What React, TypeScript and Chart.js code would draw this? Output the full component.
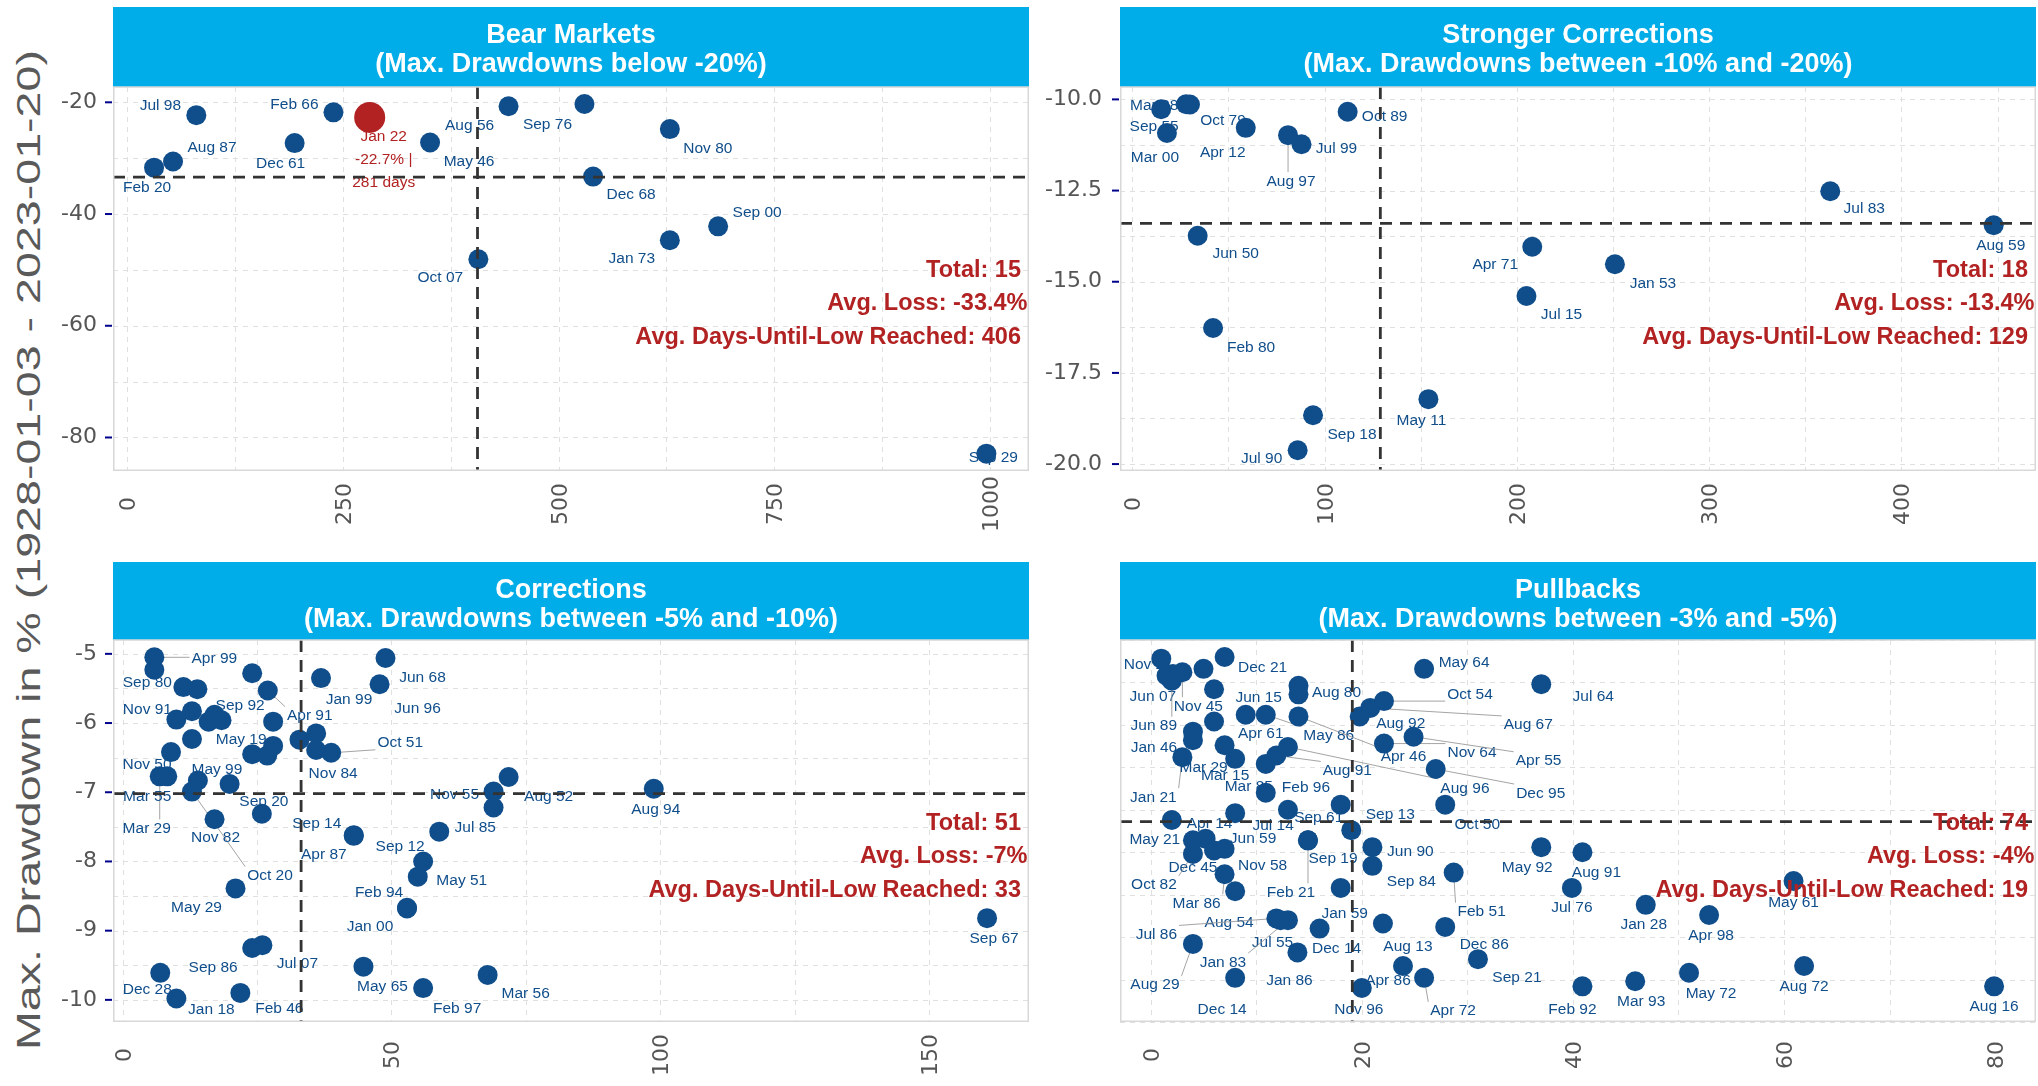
import React, { useEffect, useRef } from "react";
import { Chart, registerables } from "chart.js";
Chart.register(...registerables);

const FONT = '"Liberation Sans", Arial, Helvetica, sans-serif';
const TICK_FONT = '"DejaVu Sans", Verdana, sans-serif';
const POINT_BLUE = "#104E8B";
const HIGHLIGHT_RED = "#B22222";
const STRIP_BLUE = "#00ADE8";
const GRID_GREY = "#E0E0E0";
const TICK_GREY = "#555555";

const yAxisTitle = "Max. Drawdown in % (1928-01-03 - 2023-01-20)";

// ---------------- Panel 1: Bear Markets ----------------
const bearTitle = ["Bear Markets", "(Max. Drawdowns below -20%)"];
const bearNames = ["Jul 98", "Aug 87", "Feb 20", "Dec 61", "Feb 66", "Jan 22", "May 46", "Aug 56", "Sep 76", "Dec 68", "Oct 07", "Nov 80", "Sep 00", "Jan 73", "Sep 29"];
const bearDays = [80, 53, 31, 194, 239, 281, 351, 442, 530, 540, 407, 629, 685, 629, 996];
const bearLoss = [-22.3, -30.6, -31.7, -27.3, -21.8, -22.7, -27.2, -20.7, -20.3, -33.3, -48.1, -24.8, -42.2, -44.7, -82.9];
const bearSummary = ["Total: 15", "Avg. Loss: -33.4%", "Avg. Days-Until-Low Reached: 406"];
const bearAvgDays = 406;
const bearAvgLoss = -33.4;
const bearHighlightText = ["Jan 22", "-22.7% |", "281 days"];

// ---------------- Panel 2: Stronger Corrections ----------------
const strongTitle = ["Stronger Corrections", "(Max. Drawdowns between -10% and -20%)"];
const strongNames = ["Mar 28", "Sep 55", "Oct 79", "Mar 00", "Apr 12", "Oct 89", "Aug 97", "Jul 99", "Jun 50", "Feb 80", "Sep 18", "Jul 90", "May 11", "Apr 71", "Jul 15", "Jan 53", "Jul 83", "Aug 59"];
const strongDays = [28, 15, 30, 18, 59, 112, 81, 88, 34, 42, 94, 86, 154, 208, 205, 251, 363, 448];
const strongLoss = [-10.13, -10.27, -10.14, -10.92, -10.78, -10.34, -10.98, -11.23, -13.74, -16.27, -18.66, -19.62, -18.22, -14.04, -15.39, -14.52, -12.52, -13.45];
const strongSummary = ["Total: 18", "Avg. Loss: -13.4%", "Avg. Days-Until-Low Reached: 129"];
const strongAvgDays = 129;
const strongAvgLoss = -13.4;

// ---------------- Panel 3: Corrections ----------------
const corrTitle = ["Corrections", "(Max. Drawdowns between -5% and -10%)"];
const corrNames = ["Apr 99", "Sep 80", "", "", "Sep 92", "Apr 91", "Jan 99", "Jun 68", "Jun 96", "", "Nov 91", "", "", "", "May 19", "", "Nov 50", "", "", "", "", "", "Nov 84", "Oct 51", "Mar 29", "Mar 55", "May 99", "Oct 20", "", "Nov 82", "Sep 20", "Apr 87", "Sep 14", "Jul 85", "Sep 12", "May 51", "Feb 94", "Jan 00", "May 29", "Sep 86", "Jul 07", "Dec 28", "Jan 18", "Feb 46", "May 65", "Feb 97", "Mar 56", "Aug 52", "Nov 55", "", "Aug 94", "Sep 67"];
const corrDays = [5.9, 5.9, 11.3, 13.9, 24.1, 27.0, 36.9, 48.9, 47.8, 12.9, 10.0, 16.0, 17.1, 18.4, 28.0, 12.9, 9.0, 24.1, 26.9, 28.0, 32.9, 36.0, 36.0, 38.8, 6.9, 8.3, 14.0, 12.9, 19.9, 17.1, 25.9, 43.0, 43.0, 58.9, 55.9, 54.9, 52.9, 52.9, 21.0, 24.1, 26.0, 7.0, 10.0, 21.9, 44.8, 55.9, 67.9, 71.8, 69.0, 69.0, 98.8, 160.8];
const corrLoss = [-5.05, -5.23, -5.48, -5.51, -5.28, -5.53, -5.35, -5.06, -5.44, -5.83, -5.95, -5.98, -5.88, -5.96, -5.98, -6.23, -6.42, -6.45, -6.47, -6.33, -6.24, -6.15, -6.39, -6.43, -6.77, -6.77, -6.83, -6.99, -6.88, -7.39, -7.31, -7.62, -7.63, -7.57, -8.0, -8.22, -8.67, -8.68, -8.39, -9.25, -9.21, -9.61, -9.98, -9.9, -9.52, -9.83, -9.64, -6.78, -6.99, -7.22, -6.95, -8.82];
const corrSummary = ["Total: 51", "Avg. Loss: -7%", "Avg. Days-Until-Low Reached: 33"];
const corrAvgDays = 33.2;
const corrAvgLoss = -7.02;

// ---------------- Panel 4: Pullbacks ----------------
const pullTitle = ["Pullbacks", "(Max. Drawdowns between -3% and -5%)"];
const pullNames = ["Nov 21", "Jun 07", "Nov 45", "Jun 89", "", "", "Dec 21", "", "", "", "Jan 46", "Jan 21", "Mar 29", "Mar 15", "Jun 15", "May 86", "", "Aug 80", "Apr 46", "Apr 61", "Aug 91", "Aug 96", "Mar 85", "Feb 96", "Jul 14", "May 21", "Sep 61", "Sep 13", "Feb 21", "Sep 19", "Dec 45", "Apr 14", "Oct 82", "Jun 59", "Nov 58", "Mar 86", "Aug 54", "Jan 59", "Jun 90", "Sep 84", "Aug 92", "Aug 67", "Oct 54", "Nov 64", "Apr 55", "May 64", "Dec 95", "Oct 50", "Feb 51", "Aug 13", "Dec 86", "Dec 14", "Jul 86", "Jul 55", "Jan 83", "Aug 29", "Jan 86", "Dec 14", "Apr 86", "Apr 72", "Nov 96", "Jul 64", "May 92", "Aug 91", "Jul 76", "Jan 28", "Apr 98", "Sep 21", "Feb 92", "Mar 93", "May 72", "May 61", "Aug 72", "Aug 16"];
const pullDays = [1.0, 2.1, 3.0, 2.0, 1.5, 5.0, 7.0, 6.0, 6.0, 4.0, 4.0, 3.0, 7.0, 8.0, 9.0, 10.9, 14.0, 14.0, 14.0, 10.9, 11.9, 13.0, 10.9, 13.0, 8.0, 2.0, 18.0, 19.0, 14.9, 14.9, 4.0, 5.2, 4.0, 6.0, 7.0, 7.0, 8.0, 18.0, 21.0, 21.0, 19.8, 20.8, 22.1, 22.1, 24.9, 25.9, 27.0, 27.9, 28.7, 22.0, 27.9, 16.0, 11.9, 12.3, 13.0, 4.0, 13.9, 8.0, 23.9, 25.9, 20.0, 37.0, 37.0, 40.9, 39.9, 46.9, 52.9, 31.0, 40.9, 45.9, 51.0, 60.9, 61.9, 79.9];
const pullLoss = [-3.03, -3.12, -3.11, -3.16, -3.13, -3.09, -3.02, -3.21, -3.4, -3.46, -3.51, -3.61, -3.54, -3.62, -3.36, -3.36, -3.19, -3.24, -3.37, -3.65, -3.6, -3.55, -3.82, -3.92, -3.94, -3.98, -3.89, -4.04, -4.1, -4.1, -4.1, -4.09, -4.18, -4.16, -4.15, -4.3, -4.4, -4.38, -4.14, -4.25, -3.37, -3.32, -3.28, -3.53, -3.49, -3.09, -3.68, -3.89, -4.29, -4.59, -4.61, -4.62, -4.56, -4.57, -4.57, -4.71, -4.76, -4.91, -4.84, -4.91, -4.97, -3.18, -4.14, -4.17, -4.38, -4.48, -4.54, -4.8, -4.96, -4.93, -4.88, -4.34, -4.84, -4.96];
const pullSummary = ["Total: 74", "Avg. Loss: -4%", "Avg. Days-Until-Low Reached: 19"];
const pullAvgDays = 19.1;
const pullAvgLoss = -3.99;

// ---------------- label layout (pixel offsets from point, leader flag) ----------------
type LabelPos = [number, number, number];
const bearLabelPos: LabelPos[] = [[-36, -11, 0], [39, -15, 0], [-7, 19, 0], [-14, 19, 0], [-39, -9, 0], [14, 41, 0], [39, 18, 0], [-39, 18, 0], [-37, 19, 0], [38, 17, 0], [-38, 17, 0], [38, 18, 0], [39, -15, 0], [-38, 17, 0], [7, 3, 0]];
const strongLabelPos: LabelPos[] = [[-32, 0, 0], [-7, 16, 0], [33, 15, 0], [-12, 24, 0], [-23, 24, 0], [37, 4, 0], [3, 45, 1], [35, 3, 0], [38, 17, 0], [38, 18, 0], [39, 18, 0], [-36, 7, 0], [-7, 20, 0], [-37, 17, 0], [35, 17, 0], [38, 18, 0], [34, 16, 0], [7, 19, 0]];
const corrLabelPos: LabelPos[] = [[60, 0, 1], [-7, 12, 0], [0, 0, 0], [0, 0, 0], [-12, 31, 0], [42, 24, 1], [28, 20, 0], [37, 18, 0], [38, 23, 0], [0, 0, 0], [-29, -11, 0], [0, 0, 0], [0, 0, 0], [0, 0, 0], [-32, 17, 0], [0, 0, 0], [-24, 11, 0], [0, 0, 0], [0, 0, 0], [0, 0, 0], [0, 0, 0], [0, 0, 0], [17, 22, 0], [69, -11, 1], [-13, 51, 1], [-20, 19, 0], [19, -12, 0], [78, 83, 1], [0, 0, 0], [1, 17, 0], [2, -13, 0], [-30, 18, 0], [-37, -13, 0], [36, -5, 0], [-23, -16, 0], [44, 3, 0], [-28, -16, 0], [-37, 17, 0], [-39, 18, 0], [-39, 18, 0], [35, 17, 0], [-13, 16, 0], [35, 10, 0], [39, 15, 0], [19, 19, 0], [34, 19, 0], [38, 18, 0], [40, 18, 0], [-39, 2, 0], [0, 0, 0], [2, 20, 0], [7, 19, 0]];
const pullLabelPos: LabelPos[] = [[-13, 5, 0], [-20, 21, 0], [16, 33, 1], [-18, 44, 1], [0, 0, 0], [0, 0, 0], [38, 9, 0], [0, 0, 0], [0, 0, 0], [0, 0, 0], [-39, 6, 0], [-29, 39, 1], [-21, 21, 0], [-10, 16, 0], [13, -18, 0], [63, 20, 1], [0, 0, 0], [38, -3, 0], [105, 39, 1], [-5, -31, 0], [71, 14, 1], [177, 40, 1], [-17, -7, 0], [18, -23, 0], [38, 11, 0], [-17, 18, 0], [-22, 12, 0], [39, -17, 0], [-17, 51, 1], [25, 17, 0], [0, 26, 0], [4, -16, 0], [-39, 30, 1], [39, -13, 0], [38, 16, 0], [-28, 28, 1], [-6, 30, 0], [4, 25, 0], [38, 3, 0], [39, 15, 0], [41, 6, 0], [158, 16, 1], [86, -8, 1], [88, 8, 1], [125, 23, 1], [40, -7, 0], [105, 23, 1], [32, 19, 0], [28, 38, 1], [25, 22, 0], [39, 17, 0], [17, 19, 0], [-120, 15, 1], [-8, 21, 0], [-65, 41, 1], [-38, 40, 1], [-8, 27, 0], [-13, 31, 0], [-15, 13, 0], [29, 32, 1], [-3, 20, 0], [52, 11, 0], [-14, 19, 0], [14, 19, 0], [0, 19, 0], [-2, 19, 0], [2, 19, 0], [39, 17, 0], [-10, 22, 0], [6, 19, 0], [22, 20, 0], [0, 20, 0], [0, 19, 0], [0, 19, 0]];

interface PanelCfg {
  title: string[];
  names: string[];
  days: number[];
  loss: number[];
  labelPos: LabelPos[];
  avgDays: number;
  avgLoss: number;
  summary: string[];
  xRange: [number, number];
  yRange: [number, number];
  xStep: [number, number];
  yStep: [number, number];
  yDecimals: number;
  box: [number, number, number, number];
  headerH: number;
  axisLeft: number;
  yPad: number;
  highlight?: number;
  highlightText?: string[];
}

const panels: PanelCfg[] = [
  {
    title: bearTitle, names: bearNames, days: bearDays, loss: bearLoss, labelPos: bearLabelPos,
    avgDays: bearAvgDays, avgLoss: bearAvgLoss, summary: bearSummary,
    xRange: [-16.6, 1045.4], yRange: [-86.0, -17.26], xStep: [250, 125], yStep: [20, 10], yDecimals: 0,
    box: [113, 87, 1029, 471], headerH: 80, axisLeft: 113, yPad: 16,
    highlight: 5, highlightText: bearHighlightText,
  },
  {
    title: strongTitle, names: strongNames, days: strongDays, loss: strongLoss, labelPos: strongLabelPos,
    avgDays: strongAvgDays, avgLoss: strongAvgLoss, summary: strongSummary,
    xRange: [-6.4, 470.0], yRange: [-20.19, -9.66], xStep: [100, 50], yStep: [2.5, 1.25], yDecimals: 1,
    box: [1120, 87, 2036, 471], headerH: 80, axisLeft: 90, yPad: 18,
  },
  {
    title: corrTitle, names: corrNames, days: corrDays, loss: corrLoss, labelPos: corrLabelPos,
    avgDays: corrAvgDays, avgLoss: corrAvgLoss, summary: corrSummary,
    xRange: [-1.79, 168.6], yRange: [-10.32, -4.8], xStep: [50, 25], yStep: [1, 0.5], yDecimals: 0,
    box: [113, 640, 1029, 1022], headerH: 78, axisLeft: 113, yPad: 16,
  },
  {
    title: pullTitle, names: pullNames, days: pullDays, loss: pullLoss, labelPos: pullLabelPos,
    avgDays: pullAvgDays, avgLoss: pullAvgLoss, summary: pullSummary,
    xRange: [-2.91, 83.87], yRange: [-5.17, -2.92], xStep: [20, 10], yStep: [0.5, 0.25], yDecimals: 1,
    box: [1120, 640, 2036, 1022], headerH: 78, axisLeft: 90, yPad: 18,
  },
];

const TOP_PAD = 87;
const BOTTOM_AXIS = 90;
const RIGHT_PAD = 2;
const LABEL_SIZE = 15.5;

const isMajor = (v: number, step: number) => Math.abs(v / step - Math.round(v / step)) < 1e-6;
const clamp = (v: number, lo: number, hi: number) => Math.max(lo, Math.min(hi, v));

function decoPlugin(cfg: PanelCfg) {
  return {
    id: "deco",
    beforeDraw(chart: any) {
      const { ctx, chartArea: a } = chart;
      ctx.save();
      ctx.fillStyle = "#FFFFFF";
      ctx.fillRect(a.left, a.top, a.right - a.left, a.bottom - a.top);
      ctx.fillStyle = STRIP_BLUE;
      ctx.fillRect(a.left, a.top - cfg.headerH, a.right - a.left, cfg.headerH);
      ctx.fillStyle = "#FFFFFF";
      ctx.font = `bold 27px ${FONT}`;
      ctx.textAlign = "center";
      ctx.textBaseline = "alphabetic";
      const cx = (a.left + a.right) / 2;
      const top = a.top - cfg.headerH;
      cfg.title.forEach((t, i) => ctx.fillText(t, cx, top + 35.7 + i * 29));
      ctx.restore();
    },
    beforeDatasetsDraw(chart: any) {
      const { ctx, chartArea: a, scales } = chart;
      const xs = scales.x;
      const ys = scales.y;
      ctx.save();
      // grid
      ctx.strokeStyle = GRID_GREY;
      ctx.lineWidth = 1;
      ctx.setLineDash([5, 5]);
      for (const t of xs.ticks) {
        const px = Math.round(xs.getPixelForValue(t.value)) + 0.5;
        ctx.beginPath();
        ctx.moveTo(px, a.top);
        ctx.lineTo(px, a.bottom);
        ctx.stroke();
      }
      for (const t of ys.ticks) {
        const py = Math.round(ys.getPixelForValue(t.value)) + 0.5;
        ctx.beginPath();
        ctx.moveTo(a.left, py);
        ctx.lineTo(a.right, py);
        ctx.stroke();
      }
      ctx.setLineDash([]);
      // y tick marks
      ctx.strokeStyle = "#00008B";
      ctx.lineWidth = 2;
      for (const t of ys.ticks) {
        if (!isMajor(t.value, cfg.yStep[0])) continue;
        const py = ys.getPixelForValue(t.value);
        ctx.beginPath();
        ctx.moveTo(a.left - 8, py);
        ctx.lineTo(a.left - 1, py);
        ctx.stroke();
      }
      // x tick labels (rotated, centred)
      ctx.fillStyle = TICK_GREY;
      ctx.font = `22px ${TICK_FONT}`;
      ctx.textAlign = "center";
      ctx.textBaseline = "alphabetic";
      for (const t of xs.ticks) {
        if (!isMajor(t.value, cfg.xStep[0])) continue;
        const px = xs.getPixelForValue(t.value);
        ctx.save();
        ctx.translate(px, a.bottom + 33);
        ctx.rotate(-Math.PI / 2);
        ctx.fillText(String(Math.round(t.value)), 0, 8);
        ctx.restore();
      }
      // point labels
      ctx.font = `${LABEL_SIZE}px ${FONT}`;
      ctx.textAlign = "center";
      ctx.textBaseline = "alphabetic";
      const base = LABEL_SIZE * 0.358;
      cfg.names.forEach((name, i) => {
        if (!name) return;
        const px = xs.getPixelForValue(cfg.days[i]);
        const py = ys.getPixelForValue(cfg.loss[i]);
        const [dx, dy, leader] = cfg.labelPos[i];
        const lx = px + dx;
        const ly = py + dy;
        if (i === cfg.highlight && cfg.highlightText) {
          ctx.fillStyle = HIGHLIGHT_RED;
          cfg.highlightText.forEach((line, k) => ctx.fillText(line, lx, ly + (k - 1) * 23 + base));
          return;
        }
        if (leader) {
          const w = ctx.measureText(name).width;
          const qx = clamp(px, lx - w / 2 - 2, lx + w / 2 + 2);
          const qy = clamp(py, ly - 8, ly + 8);
          ctx.strokeStyle = "#9A9A9A";
          ctx.lineWidth = 0.9;
          ctx.beginPath();
          ctx.moveTo(px, py);
          ctx.lineTo(qx, qy);
          ctx.stroke();
        }
        ctx.fillStyle = POINT_BLUE;
        ctx.fillText(name, lx, ly + base);
      });
      ctx.restore();
    },
    afterDatasetsDraw(chart: any) {
      const { ctx, chartArea: a, scales } = chart;
      const xs = scales.x;
      const ys = scales.y;
      ctx.save();
      // mean lines
      ctx.strokeStyle = "#333333";
      ctx.lineWidth = 2.8;
      ctx.setLineDash([12, 8]);
      const hy = ys.getPixelForValue(cfg.avgLoss);
      ctx.beginPath();
      ctx.moveTo(a.left, hy);
      ctx.lineTo(a.right, hy);
      ctx.stroke();
      const vx = xs.getPixelForValue(cfg.avgDays);
      ctx.beginPath();
      ctx.moveTo(vx, a.top);
      ctx.lineTo(vx, a.bottom);
      ctx.stroke();
      ctx.setLineDash([]);
      // summary text
      ctx.fillStyle = HIGHLIGHT_RED;
      ctx.font = `bold 23.5px ${FONT}`;
      ctx.textAlign = "right";
      ctx.textBaseline = "alphabetic";
      const rOff = [8, 1.5, 8];
      cfg.summary.forEach((s, i) => ctx.fillText(s, a.right - rOff[i], a.top + 189.7 + i * 33.4));
      // border
      ctx.strokeStyle = "#D8D8D8";
      ctx.lineWidth = 1.5;
      ctx.strokeRect(a.left + 0.75, a.top, a.right - a.left - 1.5, a.bottom - a.top - 0.75);
      ctx.restore();
    },
  };
}

function Panel({ cfg }: { cfg: PanelCfg }) {
  const ref = useRef<HTMLCanvasElement | null>(null);
  const [left, top, right, bottom] = cfg.box;
  const cw = cfg.axisLeft + (right - left) + RIGHT_PAD;
  const ch = TOP_PAD + (bottom - top) + BOTTOM_AXIS;
  const cl = left - cfg.axisLeft;
  const ct = top - TOP_PAD;

  useEffect(() => {
    if (!ref.current) return;
    const colors = cfg.days.map((_, i) => (i === cfg.highlight ? HIGHLIGHT_RED : POINT_BLUE));
    const radii = cfg.days.map((_, i) => (i === cfg.highlight ? 15.5 : 10));
    const chart = new Chart(ref.current, {
      type: "scatter",
      data: {
        datasets: [
          {
            data: cfg.days.map((d, i) => ({ x: d, y: cfg.loss[i] })),
            backgroundColor: colors,
            pointRadius: radii,
            pointHoverRadius: radii,
            borderWidth: 0,
            pointBorderWidth: 0,
          } as any,
        ],
      },
      options: {
        responsive: false,
        animation: false,
        devicePixelRatio: 1,
        events: [],
        layout: { autoPadding: false, padding: { left: 0, top: TOP_PAD, right: RIGHT_PAD, bottom: 0 } },
        plugins: { legend: { display: false }, tooltip: { enabled: false }, title: { display: false } },
        scales: {
          x: {
            type: "linear",
            min: cfg.xRange[0],
            max: cfg.xRange[1],
            grid: { display: false, drawTicks: false },
            border: { display: false },
            ticks: { display: false, stepSize: cfg.xStep[1], autoSkip: false, includeBounds: false },
            afterFit: (s: any) => {
              s.height = BOTTOM_AXIS;
            },
          },
          y: {
            type: "linear",
            min: cfg.yRange[0],
            max: cfg.yRange[1],
            grid: { display: false, drawTicks: false },
            border: { display: false },
            ticks: {
              stepSize: cfg.yStep[1],
              autoSkip: false,
              includeBounds: false,
              padding: cfg.yPad,
              color: TICK_GREY,
              font: { family: TICK_FONT, size: 22 },
              callback: (v: any) => (isMajor(Number(v), cfg.yStep[0]) ? Number(v).toFixed(cfg.yDecimals) : ""),
            },
            afterFit: (s: any) => {
              s.width = cfg.axisLeft;
            },
          },
        },
      } as any,
      plugins: [decoPlugin(cfg)],
    });
    return () => chart.destroy();
  }, [cfg]);

  return (
    <canvas
      ref={ref}
      width={cw}
      height={ch}
      style={{ position: "absolute", left: cl, top: ct, width: cw, height: ch }}
    />
  );
}

export default function App() {
  return (
    <div
      style={{
        position: "absolute",
        left: 0,
        top: 0,
        width: 2038,
        height: 1086,
        background: "#FFFFFF",
        overflow: "hidden",
        fontFamily: FONT,
      }}
    >
      <svg style={{ position: "absolute", left: 0, top: 0 }} width={70} height={1086}>
        <text
          transform="translate(40,550) rotate(-90)"
          textAnchor="middle"
          fontFamily={FONT}
          fontSize={34}
          fill="#5A5A5A"
          textLength={1000}
          lengthAdjust="spacingAndGlyphs"
        >
          {yAxisTitle}
        </text>
      </svg>
      {panels.map((p, i) => (
        <Panel key={i} cfg={p} />
      ))}
    </div>
  );
}
